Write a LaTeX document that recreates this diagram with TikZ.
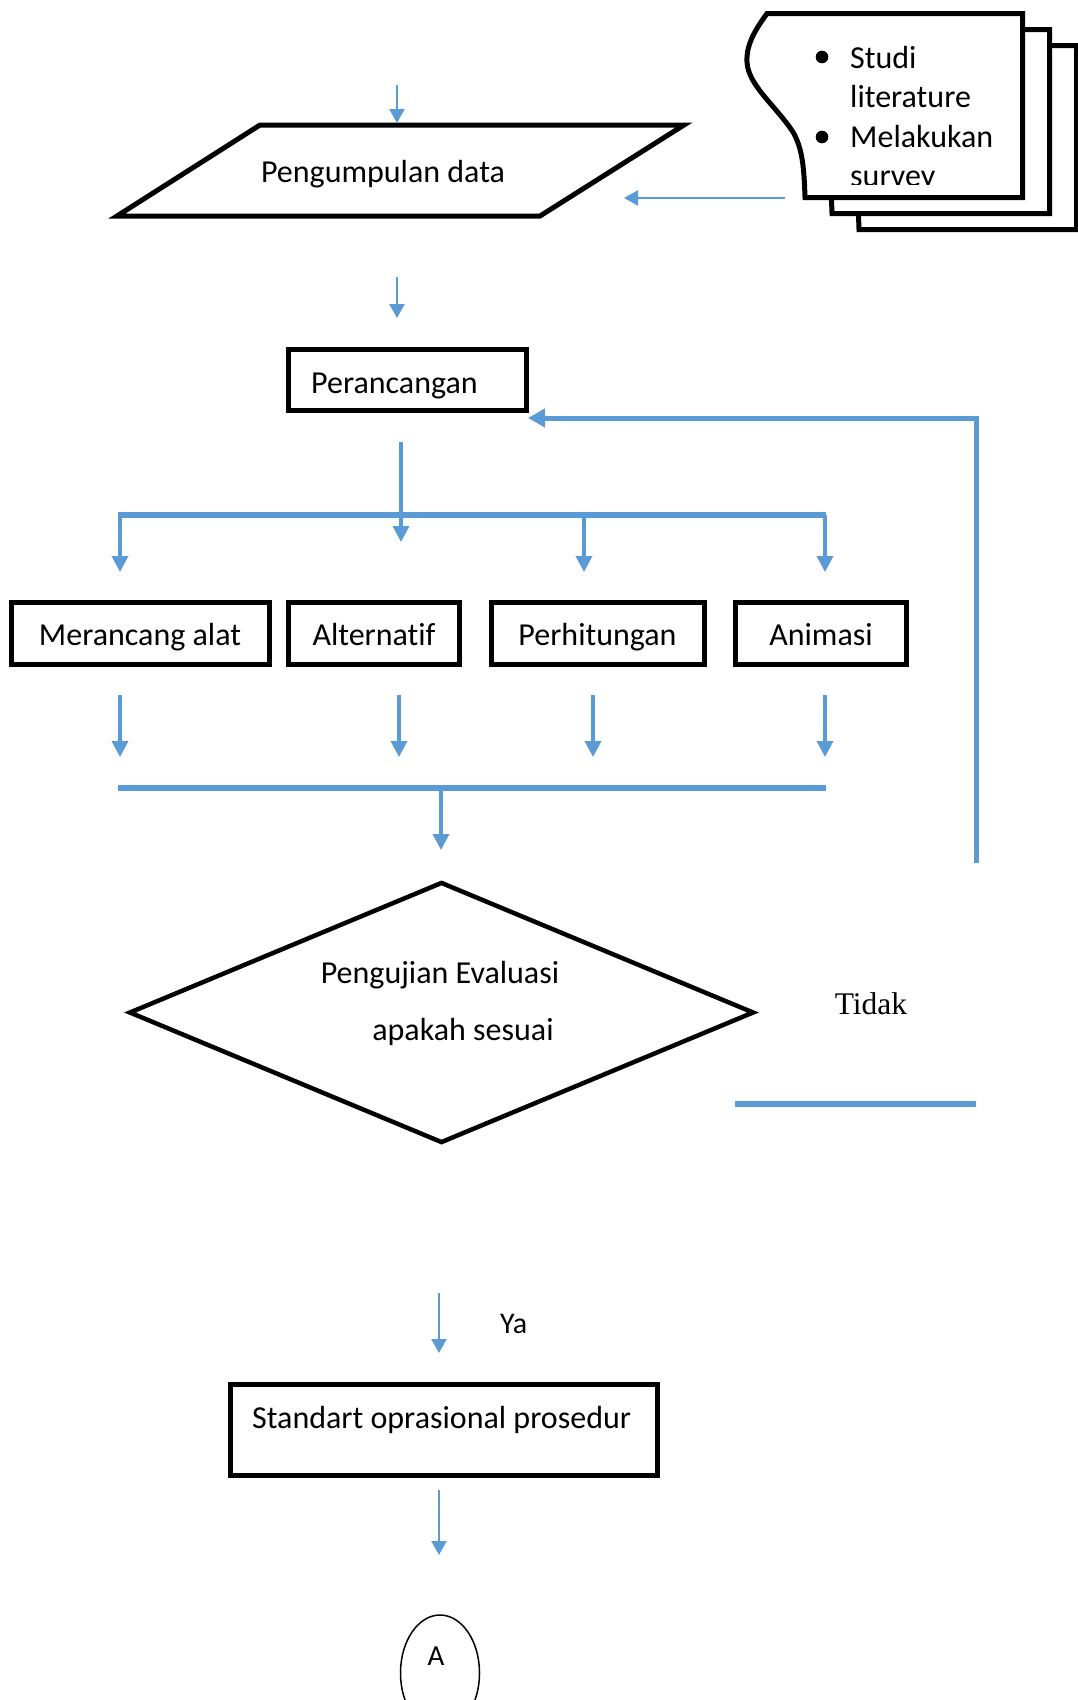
\documentclass[tikz,border=0pt]{standalone}
\usepackage{fontspec}
\setmainfont[Ligatures={NoCommon,NoRare,NoDiscretionary}]{Carlito}
\newfontfamily\tidakfont{Liberation Serif}
\usetikzlibrary{arrows.meta,shapes.geometric}
\definecolor{flowblue}{RGB}{91,155,213}
\begin{document}
\begin{tikzpicture}[x=1pt,y=-1pt,
  box/.style n args={2}{rectangle,draw=black,line width=5pt,minimum width=#1,minimum height=#2,inner sep=0pt},
  txt/.style={font=\fontsize{32}{39}\selectfont,inner sep=0pt,anchor=base},
  arr/.style={draw=flowblue,line width=3.5pt,-{Triangle[length=16pt,width=16pt]}},
  thinarr/.style={draw=flowblue,line width=2.5pt,-{Triangle[length=14pt,width=15pt]}},
  bus/.style={draw=flowblue,line width=5.5pt},
  docline/.style={draw=black,line width=5pt,fill=white,line join=miter},
  shapeline/.style={draw=black,line width=5pt,line join=miter}]
\useasboundingbox (0,0) rectangle (1078,1700);

% ---------- document stack ----------
\foreach \dx/\dy in {54/32, 27/16, 0/0} {
  \draw[docline,shift={(\dx,\dy)}]
    (805,197.5) .. controls (804,165) and (802,148) .. (793,132)
    .. controls (775,105) and (748,85) .. (747,62)
    .. controls (746,45) and (755,30) .. (767,13.5)
    -- (1022.5,13.5) -- (1022.5,197.5) -- cycle;
}
\fill (822,57) circle (6.3);
\fill (822,137) circle (6.3);
\begin{scope}
  \clip (760,0) rectangle (1019,184);
  \node[txt,anchor=base west] (doc1) at (850,68) {Studi};
  \node[txt,anchor=base west] (doc2) at (850,107.5) {literature};
  \node[txt,anchor=base west] (doc3) at (850,147) {Melakukan};
  \node[txt,anchor=base west] (doc4) at (850,186.5) {survey};
\end{scope}

% ---------- Pengumpulan data ----------
\draw[shapeline] (260,125) -- (684,125) -- (540,216) -- (117,216) -- cycle;
\node[txt] (pengt) at (383,182) {Pengumpulan data};

\coordinate (t0) at (397,85);  \coordinate (t1) at (397,123);
\draw[thinarr] (t0) -- (t1);
\coordinate (d0) at (785,198); \coordinate (d1) at (624,198);
\draw[thinarr] (d0) -- (d1);
\coordinate (p0) at (397,277); \coordinate (p1) at (397,318);
\draw[thinarr] (p0) -- (p1);

% ---------- Perancangan ----------
\node[box={238pt}{61pt}] (peran) at (407.5,380) {};
\node[txt,anchor=base west] (perant) at (311,393) {Perancangan};

\coordinate (r0) at (401,442); \coordinate (r1) at (401,542);
\coordinate (bL) at (118,515); \coordinate (bR) at (826,515);
\draw[bus,line width=6pt] (bL) -- (bR);
\draw[arr] (r0) -- (r1);
\foreach \i/\x in {1/120,2/584,3/825} {
  \coordinate (ua\i) at (\x,515); \coordinate (ub\i) at (\x,572);
  \draw[arr] (ua\i) -- (ub\i);
}

% ---------- four boxes ----------
\node[box={258pt}{62pt}] (mer) at (140.5,633.5) {};
\node[box={171pt}{62pt}] (alt) at (374,633.5) {};
\node[box={213pt}{62pt}] (per) at (598,633.5) {};
\node[box={171pt}{62pt}] (ani) at (821,633.5) {};
\node[txt] (mert) at (140,645) {Merancang alat};
\node[txt] (altt) at (374,645) {Alternatif};
\node[txt] (pert) at (597.5,645) {Perhitungan};
\node[txt] (anit) at (821,645) {Animasi};

\foreach \i/\x in {1/120,2/399,3/593,4/825} {
  \coordinate (la\i) at (\x,695); \coordinate (lb\i) at (\x,757);
  \draw[arr] (la\i) -- (lb\i);
}
\coordinate (cL) at (118,788); \coordinate (cR) at (826,788);
\draw[bus] (cL) -- (cR);
\coordinate (e0) at (441,788); \coordinate (e1) at (441,850);
\draw[arr] (e0) -- (e1);

% ---------- feedback ----------
\coordinate (f0) at (976,863); \coordinate (f1) at (976,418); \coordinate (f2) at (528,418);
\draw[draw=flowblue,line width=5pt,-{Triangle[length=17pt,width=18pt]}] (f0) -- (f1) -- (f2);

% ---------- decision ----------
\node[diamond,draw=black,line width=4.5pt,minimum width=625pt,minimum height=261pt,inner sep=0pt] (dec) at (441.5,1012.5) {};
\node[txt] (dect1) at (440,983) {Pengujian Evaluasi};
\node[txt] (dect2) at (463,1040) {apakah sesuai};
\node[inner sep=0pt,anchor=base,font=\tidakfont\fontsize{31.5}{38}\selectfont] (tidak) at (871,1014) {Tidak};
\coordinate (n0) at (735,1104); \coordinate (n1) at (976,1104);
\draw[bus] (n0) -- (n1);

% ---------- Ya / SOP ----------
\coordinate (y0) at (439,1293); \coordinate (y1) at (439,1353);
\draw[thinarr] (y0) -- (y1);
\node[txt,anchor=base west,font=\fontsize{30}{36}\selectfont] (ya) at (500,1333) {Ya};
\node[box={427pt}{91pt}] (sop) at (444,1430) {};
\node[txt,anchor=base west] (sopt) at (252,1428) {Standart oprasional prosedur};
\coordinate (s0) at (439,1490); \coordinate (s1) at (439,1555);
\draw[thinarr] (s0) -- (s1);

\node[ellipse,draw=black,line width=1.5pt,minimum width=79pt,minimum height=116pt,inner sep=0pt] (conA) at (440,1673) {};
\node[txt,font=\fontsize{29}{34}\selectfont] (conAt) at (436,1665) {A};
\end{tikzpicture}
\end{document}
